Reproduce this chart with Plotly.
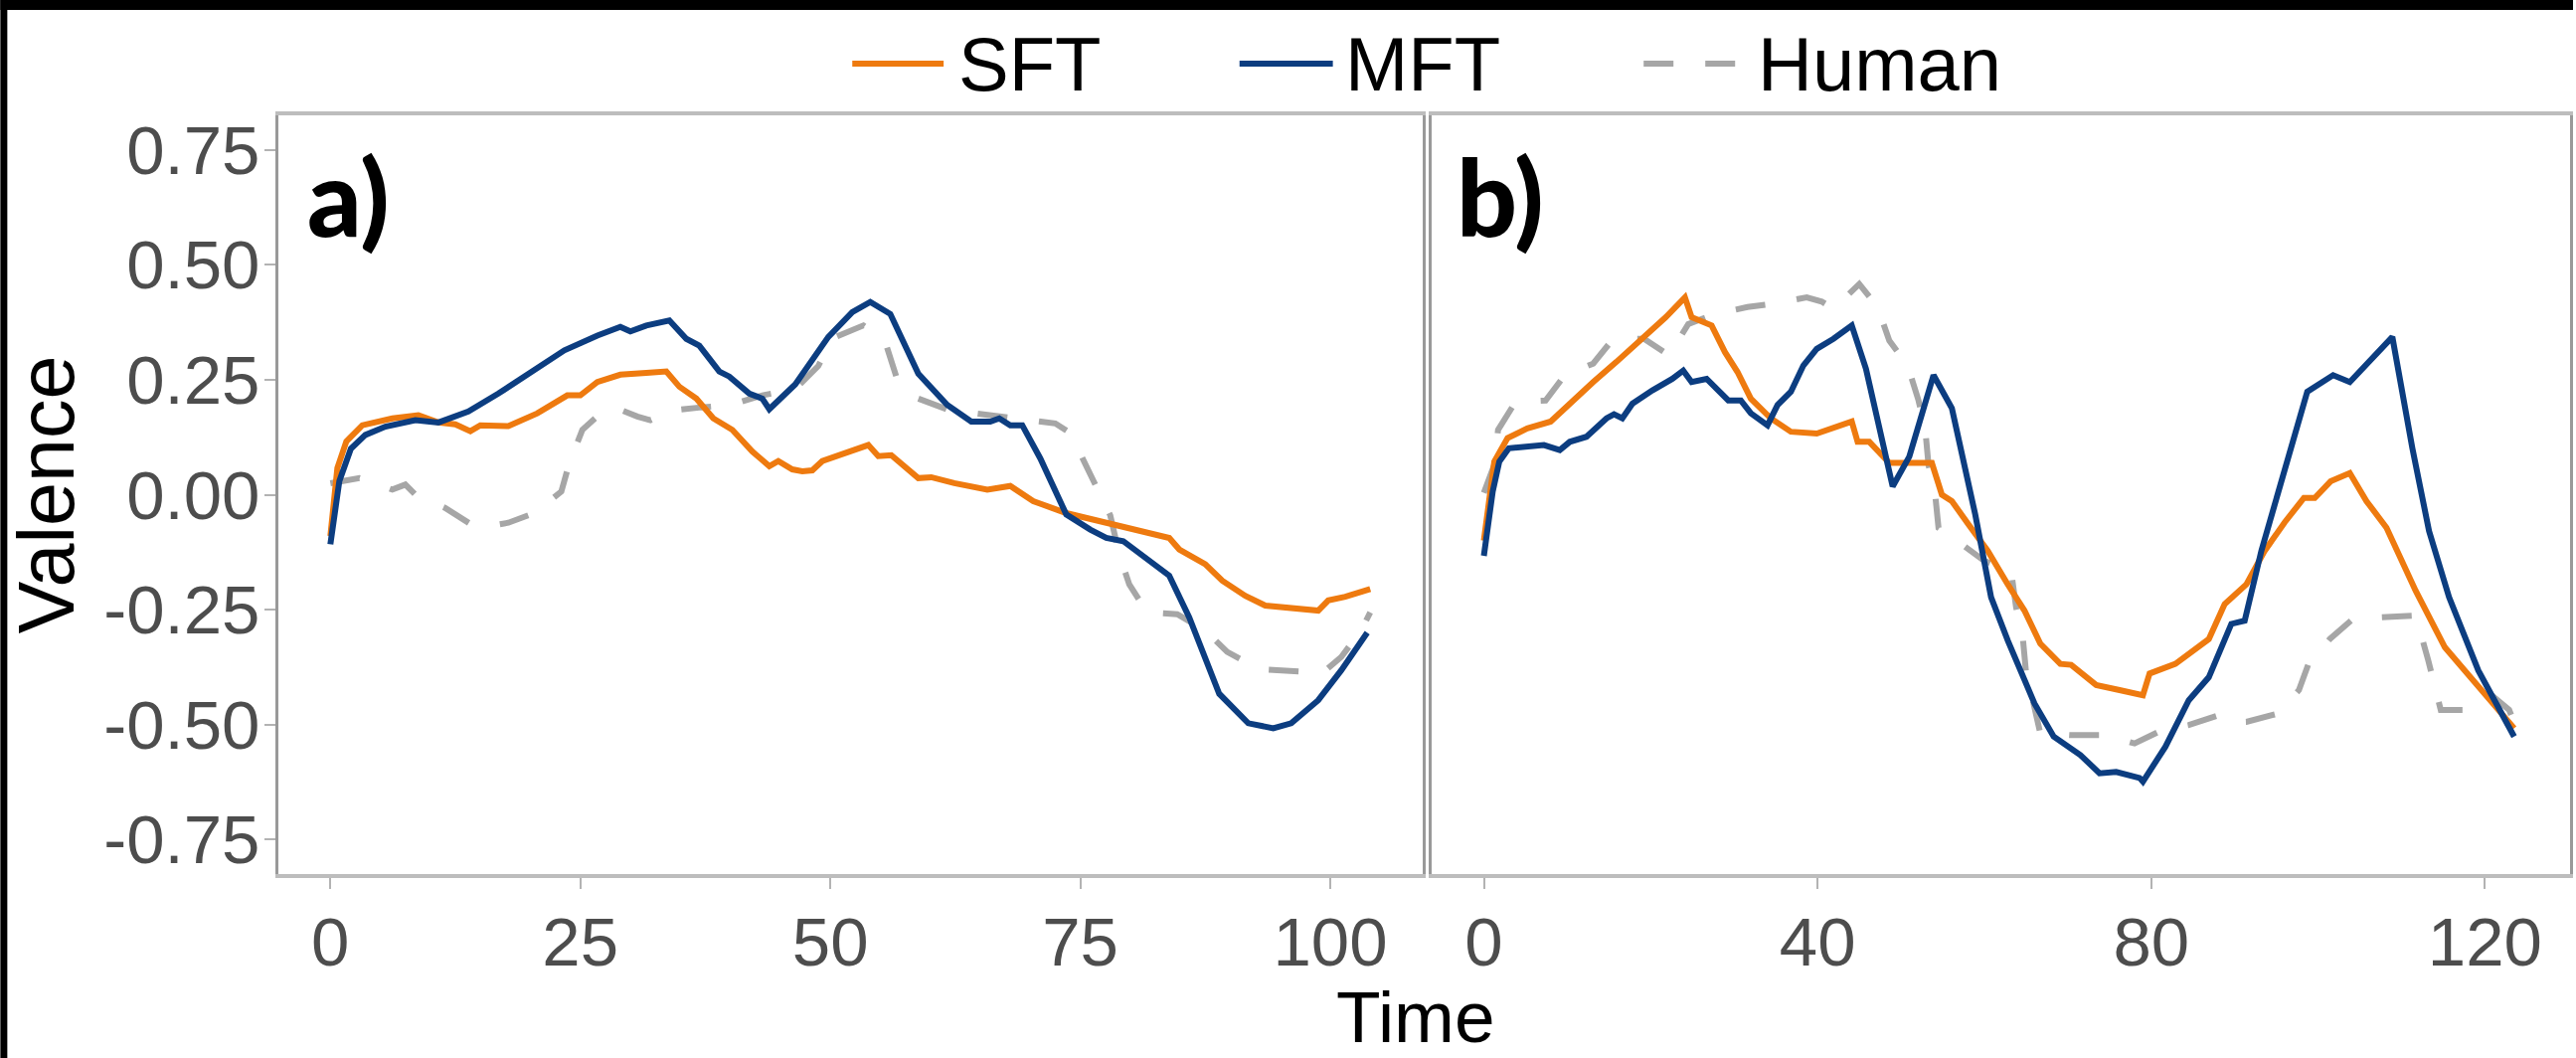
import plotly.graph_objects as go

# ---------------- data ----------------
# Panel a)
A_SFT_T = [0, 0.7, 1.6, 3.2, 6.2, 8.8, 10.8, 12.5, 14, 15, 17.8, 20.7, 23.7, 25, 26.7, 29, 31.6, 33.6,
           34.9, 36.6, 38.3, 40.2, 42.2, 43.9, 44.8, 46.2, 47.2, 48.2, 49.2, 51.5, 53.8, 54.8, 56.1, 58.8,
           60.1, 62.4, 65.7, 68, 70.3, 73.6, 77.6, 80.9, 83.9, 84.9, 87.5, 89.2, 91.5, 93.5, 96, 98.8,
           99.8, 101.5, 104]
A_SFT_V = [-0.09, 0.058, 0.116, 0.151, 0.166, 0.173, 0.157, 0.153, 0.138, 0.151, 0.149, 0.177, 0.216,
           0.216, 0.245, 0.261, 0.265, 0.268, 0.235, 0.209, 0.166, 0.141, 0.094, 0.062, 0.073, 0.055,
           0.051, 0.053, 0.073, 0.09, 0.108, 0.084, 0.086, 0.036, 0.038, 0.025, 0.011, 0.019, -0.014,
           -0.040, -0.061, -0.079, -0.094, -0.119, -0.151, -0.187, -0.22, -0.241, -0.246, -0.252, -0.23,
           -0.222, -0.205]

A_MFT_T = [0, 0.9, 2.05, 3.5, 5.5, 8.5, 10.8, 13.8, 16.8, 20.1, 23.4, 26.7, 29, 30, 31.6, 33.9, 35.6,
           36.9, 38.9, 39.9, 41.9, 43.2, 43.9, 46.5, 49.8, 52.2, 54, 56, 58.8, 61.7, 64.1, 66, 66.9, 68,
           69.2, 71, 72.3, 73.6, 76, 77.6, 79.3, 81.6, 83.9, 85.9, 88.9, 91.8, 94.3, 96.1, 98.8, 101.1,
           103.7]
A_MFT_V = [-0.108, 0.03, 0.10, 0.13, 0.148, 0.162, 0.157, 0.181, 0.22, 0.268, 0.314, 0.346, 0.365,
           0.355, 0.368, 0.379, 0.339, 0.324, 0.268, 0.257, 0.22, 0.209, 0.186, 0.24, 0.343, 0.397,
           0.419, 0.393, 0.263, 0.195, 0.159, 0.159, 0.166, 0.151, 0.151, 0.079, 0.014, -0.043, -0.076,
           -0.094, -0.101, -0.137, -0.176, -0.267, -0.433, -0.497, -0.508, -0.497, -0.447, -0.382, -0.30]

A_HUM_T = [0, 2.9, 4.5, 6.2, 7.5, 8.5, 11.5, 14.1, 16, 17.8, 20.4, 23.1, 23.9, 25.2, 27.4, 29, 30.7,
           32, 33.4, 35, 37.1, 40, 43.2, 46.5, 48.8, 50.2, 53.3, 55.5, 56.6, 58.8, 61.9, 64.4, 68, 70.8,
           72.5, 74, 75.3, 77, 78, 78.9, 79.9, 81.7, 84.7, 87.5, 89.7, 92.8, 95.6, 97.5, 99.1, 101.1,
           103.1, 104]
A_HUM_V = [0.025, 0.036, 0.025, 0.011, 0.022, 0.0, -0.029, -0.065, -0.068, -0.061, -0.04, 0.007,
           0.069, 0.141, 0.184, 0.185, 0.17, 0.162, 0.177, 0.185, 0.19, 0.195, 0.216, 0.23, 0.28, 0.34,
           0.368, 0.332, 0.257, 0.209, 0.184, 0.177, 0.17, 0.159, 0.155, 0.134, 0.076, 0.004, -0.045,
           -0.13, -0.195, -0.256, -0.26, -0.295, -0.342, -0.379, -0.382, -0.385, -0.39, -0.353, -0.295,
           -0.256]

# Panel b)
B_SFT_T = [0, 1.25, 2.84, 5.2, 8, 10.7, 13.1, 15.9, 19.4, 21.8, 24.1, 24.9, 27.3, 28.9, 30.4, 32, 34.4,
           36.8, 39.9, 42.3, 44.1, 44.8, 46.2, 48.6, 49.8, 53.7, 54.9, 56.1, 58.1, 60.4, 62.8, 64.8, 66.7,
           69.1, 70.4, 73.4, 76.2, 79, 79.8, 82.9, 86.9, 88.8, 91.4, 93.6, 96, 98.3, 99.6, 101.5, 103.8,
           105.8, 108.2, 111.7, 115.2, 119.6, 123.5]
B_SFT_V = [-0.10, 0.072, 0.123, 0.144, 0.159, 0.205, 0.245, 0.289, 0.346, 0.386, 0.429, 0.386, 0.368,
           0.31, 0.267, 0.209, 0.166, 0.137, 0.133, 0.148, 0.159, 0.115, 0.115, 0.069, 0.069, 0.069, 0.0,
           -0.014, -0.065, -0.122, -0.195, -0.252, -0.324, -0.368, -0.37, -0.414, -0.425, -0.436, -0.389,
           -0.368, -0.314, -0.238, -0.195, -0.122, -0.06, -0.007, -0.007, 0.029, 0.047, -0.014, -0.072,
           -0.209, -0.332, -0.425, -0.508]

B_MFT_T = [0, 1.06, 1.85, 3.0, 7.2, 9.1, 10.3, 12.3, 14.7, 15.6, 16.6, 17.8, 20.2, 22.6, 23.9, 24.9,
           26.7, 29.3, 30.8, 32, 34, 35.2, 36.8, 38.3, 39.9, 41.9, 44.1, 45.8, 49, 51, 53.9, 56.1, 58.9,
           60.8, 62.8, 66, 68.3, 71.5, 73.8, 75.8, 78.6, 79, 81.7, 84.5, 86.9, 89.6, 91.2, 93.2, 98.7,
           101.8, 103.8, 106.2, 108.9, 111.3, 113.3, 115.7, 119.2, 123.5]
B_MFT_V = [-0.133, 0.007, 0.072, 0.101, 0.108, 0.097, 0.115, 0.126, 0.166, 0.175, 0.166, 0.198, 0.227,
           0.252, 0.27, 0.245, 0.252, 0.205, 0.205, 0.177, 0.151, 0.195, 0.224, 0.281, 0.317, 0.339,
           0.368, 0.274, 0.018, 0.083, 0.26, 0.188, -0.043, -0.223, -0.317, -0.454, -0.526, -0.566,
           -0.606, -0.603, -0.616, -0.624, -0.548, -0.447, -0.397, -0.281, -0.274, -0.122, 0.224, 0.26,
           0.245, 0.289, 0.343, 0.101, -0.079, -0.223, -0.382, -0.526]

B_HUM_T = [0, 1.25, 1.7, 3.8, 7.4, 9.7, 13.1, 15.5, 19.2, 22.2, 24.5, 27.7, 31.6, 34.6, 38.7, 40.5,
           41.9, 45, 47.2, 48.6, 50.8, 52.1, 52.9, 53.3, 54.1, 54.5, 57.3, 60, 63.2, 63.8, 64.6, 65, 65.8,
           66.7, 70.3, 74.6, 78, 81.3, 84.5, 88.2, 89.8, 91.4, 95.2, 97.7, 98.8, 101.4, 104.2, 108.2,
           111.7, 113.2, 114.7, 118, 120.8, 122.9, 123.7]
B_HUM_V = [0.004, 0.065, 0.141, 0.202, 0.205, 0.26, 0.285, 0.339, 0.339, 0.303, 0.371, 0.393, 0.408,
           0.415, 0.429, 0.42, 0.404, 0.458, 0.408, 0.335, 0.281, 0.205, 0.144, 0.065, 0.0, -0.072,
           -0.108, -0.144, -0.166, -0.245, -0.31, -0.389, -0.447, -0.519, -0.523, -0.523, -0.541,
           -0.512, -0.501, -0.479, -0.495, -0.494, -0.476, -0.425, -0.37, -0.314, -0.27, -0.267, -0.263,
           -0.36, -0.468, -0.468, -0.436, -0.468, -0.505]

SERIES = ["SFT", "MFT", "Human"]
COLORS = {"SFT": "#EE7A0F", "MFT": "#0C3D80", "Human": "#A6A6A6"}
DASHES = {"SFT": "solid", "MFT": "solid", "Human": "30px,32px"}
PANEL_LABELS = ["a)", "b)"]
A_TICKS = [0, 25, 50, 75, 100]
B_TICKS = [0, 40, 80, 120]
Y_TICKS = [-0.75, -0.5, -0.25, 0, 0.25, 0.5, 0.75]
Y_TICKTEXT = ["-0.75", "-0.50", "-0.25", "0.00", "0.25", "0.50", "0.75"]

# ---------------- layout geometry ----------------
W, H = 2591, 1064
ML, MR, MT, MB = 280, 3, 116, 185
PW, PH = W - ML - MR, H - MT - MB


def px_x(p):
    return (p - ML) / PW


def px_y(p):
    return (H - MB - p) / PH


TICKFONT = dict(family="Liberation Sans, Arial, sans-serif", size=69, color="#4D4D4D")
TITLEFONT = dict(family="Liberation Sans, Arial, sans-serif", size=76, color="#000000")

fig = go.Figure()
panels = [
    ("x", "y", {"SFT": (A_SFT_T, A_SFT_V), "MFT": (A_MFT_T, A_MFT_V), "Human": (A_HUM_T, A_HUM_V)}),
    ("x2", "y2", {"SFT": (B_SFT_T, B_SFT_V), "MFT": (B_MFT_T, B_MFT_V), "Human": (B_HUM_T, B_HUM_V)}),
]
for xa, ya, data in panels:
    for name in ["Human", "SFT", "MFT"]:
        t, v = data[name]
        fig.add_trace(go.Scatter(x=t, y=v, mode="lines", name=name, xaxis=xa, yaxis=ya,
                                 showlegend=False,
                                 line=dict(color=COLORS[name], width=6, dash=DASHES[name])))

common_x = dict(ticks="outside", ticklen=11, tickwidth=2, tickcolor="#B3B3B3",
                showline=True, mirror=True, linecolor="#BDBDBD", linewidth=4,
                showgrid=False, zeroline=False, tickfont=TICKFONT)
fig.update_layout(
    width=W, height=H,
    margin=dict(l=ML, r=MR, t=MT, b=MB, pad=0),
    paper_bgcolor="white", plot_bgcolor="white",
    xaxis=dict(domain=[0, px_x(1432)], range=[-5.2, 109.2], tickvals=A_TICKS, anchor="y", **common_x),
    xaxis2=dict(domain=[px_x(1442), 1], range=[-6.2, 130.2], tickvals=B_TICKS, anchor="y2", **common_x),
    yaxis=dict(domain=[0, 1], range=[-0.825, 0.825], tickvals=Y_TICKS, ticktext=Y_TICKTEXT,
               ticks="outside", ticklen=11, tickwidth=2, tickcolor="#B3B3B3",
               showline=True, mirror=True, linecolor="#999999", linewidth=2.5,
               showgrid=False, zeroline=False, tickfont=TICKFONT, anchor="x"),
    yaxis2=dict(domain=[0, 1], range=[-0.825, 0.825], matches="y", showticklabels=False, ticks="",
                showline=True, mirror=True, linecolor="#999999", linewidth=2.5,
                showgrid=False, zeroline=False, anchor="x2"),
    showlegend=False,
)
try:
    fig.update_layout(yaxis_ticklabelstandoff=-9, xaxis_ticklabelstandoff=-6,
                      xaxis2_ticklabelstandoff=-6)
except Exception:
    pass

# axis titles
fig.add_annotation(text="Time", xref="paper", yref="paper", x=px_x(1425), y=px_y(1022),
                   xanchor="center", yanchor="middle", showarrow=False,
                   font=dict(TITLEFONT, size=73))
fig.add_annotation(text="Valence", xref="paper", yref="paper", x=px_x(46), y=px_y(497),
                   xanchor="center", yanchor="middle", textangle=-90, showarrow=False,
                   font=dict(TITLEFONT, size=79))

# panel labels
LABEL_FONT = dict(family="Lato, 'Open Sans', sans-serif", size=107, color="#000000", weight=900)
fig.add_annotation(text=PANEL_LABELS[0], xref="paper", yref="paper", x=px_x(307), y=px_y(196),
                   xanchor="left", yanchor="middle", showarrow=False, font=LABEL_FONT)
fig.add_annotation(text=PANEL_LABELS[1], xref="paper", yref="paper", x=px_x(1465), y=px_y(196),
                   xanchor="left", yanchor="middle", showarrow=False, font=LABEL_FONT)

# custom legend (line samples + labels)
LEG_Y = 64
leg_items = [("SFT", 858, 950, 963), ("MFT", 1248, 1342, 1352), ("Human", 1655, 1758, 1768)]
for name, x0, x1, xt in leg_items:
    fig.add_shape(type="line", xref="paper", yref="paper", x0=px_x(x0), x1=px_x(x1),
                  y0=px_y(LEG_Y), y1=px_y(LEG_Y),
                  line=dict(color=COLORS[name], width=6, dash=DASHES[name]))
    fig.add_annotation(text=name, xref="paper", yref="paper", x=px_x(xt), y=px_y(LEG_Y),
                       xanchor="left", yanchor="middle", showarrow=False, font=TITLEFONT)

# black frame bands (top and left)
fig.add_shape(type="rect", xref="paper", yref="paper", x0=px_x(0), x1=px_x(W), y0=px_y(0), y1=px_y(10),
              fillcolor="black", line=dict(width=0), layer="above")
fig.add_shape(type="rect", xref="paper", yref="paper", x0=px_x(0), x1=px_x(7), y0=px_y(0), y1=px_y(H),
              fillcolor="black", line=dict(width=0), layer="above")

fig.write_html(
    "out.html",
    config={"displayModeBar": False},
    post_script="document.body.style.margin='0';document.body.style.overflow='hidden';"
                "document.documentElement.style.overflow='hidden';",
)
